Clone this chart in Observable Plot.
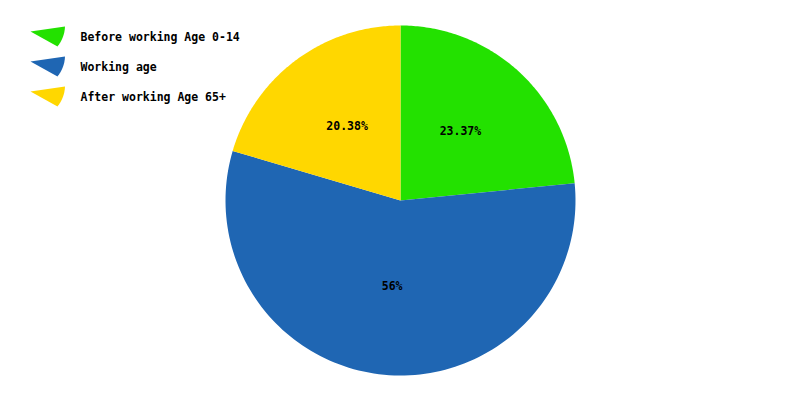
<!DOCTYPE html>
<html><head><meta charset="utf-8">
<script src="https://cdn.jsdelivr.net/npm/d3@7"></script>
<script src="https://cdn.jsdelivr.net/npm/@observablehq/plot@0.6"></script>
<style>body{margin:0;background:#fff}</style>
</head><body><div id="chart"></div>
<script>
const categories = ["Before working Age 0-14", "Working age", "After working Age 65+"];
const values = [23.37, 56, 20.38];
const labels = ["23.37%", "56%", "20.38%"];
const colors = ["#23e100", "#1f66b3", "#ffd700"];

const W = 800, H = 400, cx = 400, cy = 200, R = 175;
const arcs = d3.pie().sort(null).value(d => d)(values);

const slicePts = [];
arcs.forEach((a, i) => {
  slicePts.push({x: cx, y: cy, k: categories[i]});
  const n = 120;
  for (let j = 0; j <= n; j++) {
    const t = a.startAngle + (a.endAngle - a.startAngle) * j / n;
    slicePts.push({x: cx + R * Math.sin(t), y: cy - R * Math.cos(t), k: categories[i]});
  }
});
const labelPts = arcs.map((a, i) => {
  const m = (a.startAngle + a.endAngle) / 2;
  return {x: cx + R * 0.51 * Math.sin(m), y: cy - R * 0.51 * Math.cos(m), t: labels[i]};
});

// legend wedges (flattened pie-slice icons)
const legPts = [];
const legText = [];
categories.forEach((c, i) => {
  const ox = 30, oy = 31 + 30 * i;
  legPts.push({x: ox, y: oy, k: c});
  const n = 16;
  for (let j = 0; j <= n; j++) {
    const t = j / n;
    // curved right edge from (ox+34.5, oy-5) to (ox+27, oy+15)
    const x = (1 - t) * (1 - t) * (ox + 34.5) + 2 * t * (1 - t) * (ox + 34) + t * t * (ox + 27);
    const y = (1 - t) * (1 - t) * (oy - 5) + 2 * t * (1 - t) * (oy + 6) + t * t * (oy + 15);
    legPts.push({x, y, k: c});
  }
  legText.push({x: 80, y: 37 + 30 * i, t: c});
});

const font = "'DejaVu Sans Mono', monospace";
const chart = Plot.plot({
  width: W, height: H, margin: 0,
  x: {domain: [0, W], range: [0, W], axis: null},
  y: {domain: [0, H], range: [0, H], axis: null},
  color: {domain: categories, range: colors},
  style: {fontFamily: font, background: "#fff"},
  marks: [
    Plot.line(slicePts, {x: "x", y: "y", z: "k", fill: "k", stroke: null, curve: "linear-closed"}),
    Plot.line(legPts, {x: "x", y: "y", z: "k", fill: "k", stroke: null, curve: "linear-closed"}),
    Plot.text(labelPts, {x: "x", y: "y", dy: -3, text: "t", fontSize: 11.5, fontWeight: "bold", fill: "#000"}),
    Plot.text(legText, {x: "x", y: "y", text: "t", textAnchor: "start", fontSize: 11.5, fontWeight: "bold", fill: "#000"})
  ]
});
document.getElementById("chart").appendChild(chart);
</script>
</body></html>
